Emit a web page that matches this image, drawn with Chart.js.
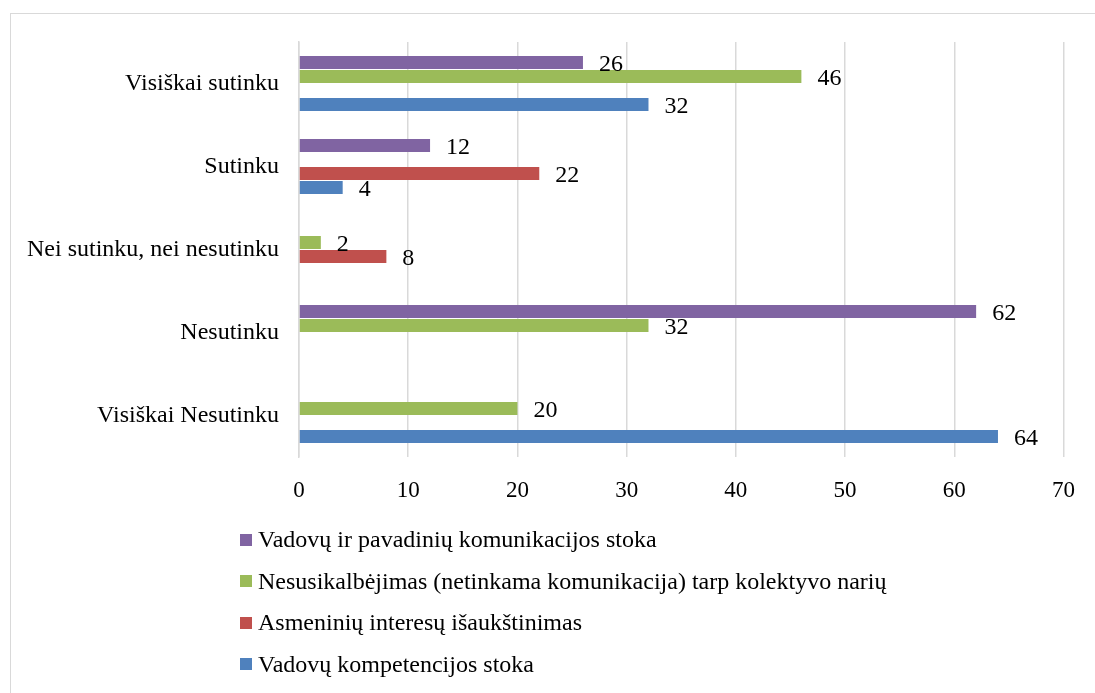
<!DOCTYPE html>
<html>
<head>
<meta charset="utf-8">
<script src="https://cdn.jsdelivr.net/npm/chart.js@4.4.0/dist/chart.umd.min.js"></script>
<style>
  html, body { margin: 0; padding: 0; background: #fff; }
  #wrap { position: relative; width: 1095px; height: 693px; overflow: hidden; }
  #frame { position: absolute; left: 10px; top: 13px; width: 1200px; height: 800px; border: 1px solid #d9d9d9; box-sizing: border-box; }
  canvas { position: absolute; left: 0; top: 0; }
  #legend { position: absolute; left: 240px; top: 519px; font-family: "Liberation Serif", "Times New Roman", serif; font-size: 24px; color: #000; }
  #legend div { height: 41.5px; display: flex; align-items: center; white-space: nowrap; }
  #legend span.box { display: inline-block; width: 12px; height: 12px; margin-right: 6px; }
</style>
</head>
<body>
<div id="wrap">
  <div id="frame"></div>
  <canvas id="c" width="1095" height="693"></canvas>
  <div id="legend"></div>
</div>
<script>
// Kategorijos (iš viršaus į apačią)
const kategorijos = ['Visiškai sutinku', 'Sutinku', 'Nei sutinku, nei nesutinku', 'Nesutinku', 'Visiškai Nesutinku'];

// Serijos - null kur stulpelio nėra
const komunikacijosStoka = [26, 12, null, 62, null];
const nesusikalbejimas = [46, null, 2, 32, 20];
const asmeniniaiInteresai = [null, 22, 8, null, null];
const kompetencijosStoka = [32, 4, null, null, 64];

const serijuPavadinimai = [
    'Vadovų ir pavadinių komunikacijos stoka',
    'Nesusikalbėjimas (netinkama komunikacija) tarp kolektyvo narių',
    'Asmeninių interesų išaukštinimas',
    'Vadovų kompetencijos stoka'
];
const spalvos = ['#8064A2', '#9BBB59', '#C0504D', '#4F81BD'];
const xTicks = [0, 10, 20, 30, 40, 50, 60, 70];

const serif = '"Liberation Serif", "Times New Roman", serif';

// Skaičiai prie stulpelių
const reiksmiuPlugin = {
    id: 'reiksmes',
    afterDatasetsDraw(chart) {
        const ctx = chart.ctx;
        ctx.save();
        ctx.font = '24px ' + serif;
        ctx.fillStyle = '#000';
        ctx.textBaseline = 'middle';
        ctx.textAlign = 'left';
        chart.data.datasets.forEach((ds, i) => {
            chart.getDatasetMeta(i).data.forEach((bar, j) => {
                const v = ds.data[j];
                if (v === null) return;
                ctx.fillText(String(v), bar.x + 16, bar.y + 2);
            });
        });
        ctx.restore();
    }
};

const duomenys = [komunikacijosStoka, nesusikalbejimas, asmeniniaiInteresai, kompetencijosStoka];

const chart = new Chart(document.getElementById('c'), {
    type: 'bar',
    data: {
        labels: kategorijos,
        datasets: duomenys.map((d, i) => ({
            label: serijuPavadinimai[i],
            data: d,
            backgroundColor: spalvos[i],
            categoryPercentage: 0.675,
            barPercentage: 0.93
        }))
    },
    options: {
        indexAxis: 'y',
        responsive: false,
        animation: false,
        layout: { padding: { top: 42, right: 31, bottom: 196, left: 0 } },
        plugins: {
            legend: { display: false },
            tooltip: { enabled: false }
        },
        scales: {
            x: {
                min: 0,
                max: 70,
                afterBuildTicks: (axis) => { axis.ticks = xTicks.map(v => ({ value: v })); },
                afterFit: (axis) => { axis.height = 40; },
                grid: { color: '#d9d9d9', lineWidth: 1.5, drawTicks: false },
                border: { display: false },
                ticks: { color: '#000', font: { family: serif, size: 23 }, padding: 20 }
            },
            y: {
                afterFit: (axis) => { axis.width = 299; },
                grid: { display: false, drawTicks: false },
                border: { display: true, color: '#d9d9d9', width: 1.5 },
                ticks: { color: '#000', font: { family: serif, size: 24 }, padding: 20 }
            }
        }
    },
    plugins: [reiksmiuPlugin]
});

// Legenda
const legend = document.getElementById('legend');
serijuPavadinimai.forEach((name, i) => {
    const row = document.createElement('div');
    row.innerHTML = `<span class="box" style="background:${spalvos[i]}"></span>${name}`;
    legend.appendChild(row);
});
</script>
</body>
</html>
